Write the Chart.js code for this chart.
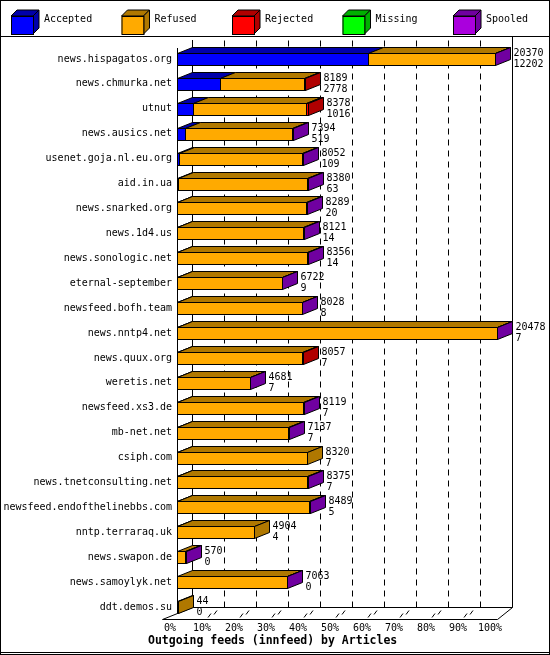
<!DOCTYPE html>
<html><head><meta charset="utf-8">
<script src="https://cdn.jsdelivr.net/npm/chart.js@4"></script>
<style>body{margin:0;background:#fff}canvas{display:block}</style>
</head><body><canvas id="c" width="550" height="655"></canvas>
<script>
const hosts=["news.hispagatos.org","news.chmurka.net","utnut","news.ausics.net","usenet.goja.nl.eu.org","aid.in.ua","news.snarked.org","news.1d4.us","news.sonologic.net","eternal-september","newsfeed.bofh.team","news.nntp4.net","news.quux.org","weretis.net","newsfeed.xs3.de","mb-net.net","csiph.com","news.tnetconsulting.net","newsfeed.endofthelinebbs.com","nntp.terraraq.uk","news.swapon.de","news.samoylyk.net","ddt.demos.su"];
const totals=[20370,8189,8378,7394,8052,8380,8289,8121,8356,6722,8028,20478,8057,4681,8119,7137,8320,8375,8489,4904,570,7063,44];
const accepted=[12202,2778,1016,519,109,63,20,14,14,9,8,7,7,7,7,7,7,7,5,4,0,0,0];
const rejected=[0,40,130,0,0,0,0,0,0,0,0,0,30,0,0,0,0,0,0,0,0,0,0];
const missing=[0,0,0,0,0,0,0,0,0,0,0,0,0,0,0,0,0,0,0,0,0,0,0];
const spooled=[30,0,0,40,80,30,30,30,30,30,30,30,0,30,30,30,0,30,30,0,30,30,0];
const refused=totals.map((t,i)=>t-accepted[i]-rejected[i]-missing[i]-spooled[i]);
const xTicks=["0%","10%","20%","30%","40%","50%","60%","70%","80%","90%","100%"];
const maxTotal=20478;
const series=[["Accepted",accepted,"#0000ff","#0000aa"],["Refused",refused,"#ffaa00","#b07800"],["Rejected",rejected,"#ff0000","#b00000"],["Missing",missing,"#00ff00","#00b000"],["Spooled",spooled,"#aa00dd","#7000a0"]];
const DX=15,DY=6,BH=12,F='"DejaVu Sans Mono", monospace';
function poly(ctx,pts,fill){ctx.beginPath();ctx.moveTo(pts[0][0],pts[0][1]);for(let k=1;k<pts.length;k++)ctx.lineTo(pts[k][0],pts[k][1]);ctx.closePath();if(fill){ctx.fillStyle=fill;ctx.fill();}ctx.stroke();}
const p3d={id:'p3d',
beforeDatasetsDraw(ch){const ctx=ch.ctx,x=ch.scales.x,y=ch.scales.y,a=ch.chartArea;
 ctx.save();ctx.strokeStyle='#000';ctx.lineWidth=1;
 // frame
 ctx.strokeRect(0.5,0.5,549,654);ctx.beginPath();ctx.moveTo(0,36.5);ctx.lineTo(550,36.5);ctx.moveTo(0,652.5);ctx.lineTo(550,652.5);ctx.stroke();
 const fl=613.5,back=fl-DY;
 const x0=Math.round(x.getPixelForValue(0))+0.5,x100=Math.round(x.getPixelForValue(maxTotal))+0.5;
 ctx.beginPath();ctx.moveTo(x0+DX,40);ctx.lineTo(x0+DX,back);ctx.lineTo(x100+DX,back);ctx.lineTo(x100+DX,36);
 ctx.moveTo(x0,48);ctx.lineTo(x0,fl);ctx.moveTo(x0-DX,fl+DY);ctx.lineTo(x0+DX,back);
 ctx.moveTo(x0-DX,fl+DY);ctx.lineTo(x100,fl+DY);ctx.lineTo(x100+DX,back);ctx.stroke();
 ctx.setLineDash([6,5]);ctx.beginPath();
 for(let k=1;k<10;k++){const px=Math.round(x.getPixelForValue(maxTotal*k/10))+0.5+DX;ctx.moveTo(px,back);ctx.lineTo(px,40);}
 ctx.stroke();ctx.setLineDash([]);
 ctx.fillStyle='#000';ctx.font='10px '+F;ctx.textAlign='center';ctx.textBaseline='top';
 for(let k=0;k<=10;k++){const px=x.getPixelForValue(maxTotal*k/10);ctx.fillText(xTicks[k],px-7,fl+10);
  if(k>0&&k<10){ctx.beginPath();ctx.moveTo(px-1,fl+4);ctx.lineTo(px+2,fl);ctx.moveTo(px+5,fl+1);ctx.lineTo(px+8,fl-3);ctx.stroke();}}
 ctx.textAlign='right';ctx.textBaseline='middle';
 hosts.forEach((h,i)=>ctx.fillText(h,172,y.getPixelForValue(i)));
 ctx.font='bold 11.5px '+F;ctx.textAlign='left';ctx.textBaseline='middle';ctx.fillText("Outgoing feeds (innfeed) by Articles",148,641);
 // legend
 ctx.font='10px '+F;
 series.forEach((s,k)=>{const lx=11+k*110.5,ly=10,w=22,hh=18,d=6;
  poly(ctx,[[lx,ly+d],[lx+d,ly],[lx+w+d,ly],[lx+w,ly+d]],s[3]);
  poly(ctx,[[lx+w,ly+d],[lx+w+d,ly],[lx+w+d,ly+hh],[lx+w,ly+hh+d]],s[3]);
  ctx.fillStyle=s[2];ctx.fillRect(lx,ly+d,w,hh);ctx.strokeRect(lx+0.5,ly+d+0.5,w,hh);
  ctx.fillStyle='#000';ctx.fillText(s[0],lx+33,19);});
 ctx.restore();},
afterDatasetsDraw(ch){const ctx=ch.ctx,x=ch.scales.x,y=ch.scales.y;
 ctx.save();ctx.strokeStyle='#000';ctx.lineWidth=1;
 hosts.forEach((h,i)=>{const yc=Math.round(y.getPixelForValue(i));const top=yc-BH/2+0.5,bot=yc+BH/2+0.5;
  let cum=0,last=null,xe=Math.round(x.getPixelForValue(0))+0.5;
  series.forEach(s=>{const v=s[1][i];if(v<=0)return;
   const xa=Math.round(x.getPixelForValue(cum))+0.5;cum+=v;const xb=Math.round(x.getPixelForValue(cum))+0.5;
   poly(ctx,[[xa,top],[xa+DX,top-DY],[xb+DX,top-DY],[xb,top]],s[3]);
   ctx.fillStyle=s[2];ctx.fillRect(xa,top,xb-xa,BH);ctx.strokeRect(xa,top,xb-xa,BH);last=s;xe=xb;});
  if(last)poly(ctx,[[xe,top],[xe+DX,top-DY],[xe+DX,bot-DY],[xe,bot]],last[3]);
  ctx.fillStyle='#000';ctx.font='10px '+F;ctx.textAlign='left';ctx.textBaseline='middle';
  ctx.fillText(String(totals[i]),xe+DX+3,yc-6);ctx.fillText(String(accepted[i]),xe+DX+3,yc+5);});
 ctx.restore();}};
new Chart(document.getElementById('c'),{type:'bar',
 data:{labels:hosts,datasets:series.map(s=>({label:s[0],data:s[1],backgroundColor:'rgba(0,0,0,0)',borderWidth:0,barThickness:BH}))},
 options:{responsive:false,animation:false,indexAxis:'y',
  layout:{padding:{left:177,right:53,top:46.5,bottom:35.5}},
  plugins:{legend:{display:false},tooltip:{enabled:false}},
  scales:{x:{stacked:true,min:0,max:maxTotal,display:false},y:{stacked:true,display:false}}},
 plugins:[p3d]});
</script></body></html>
